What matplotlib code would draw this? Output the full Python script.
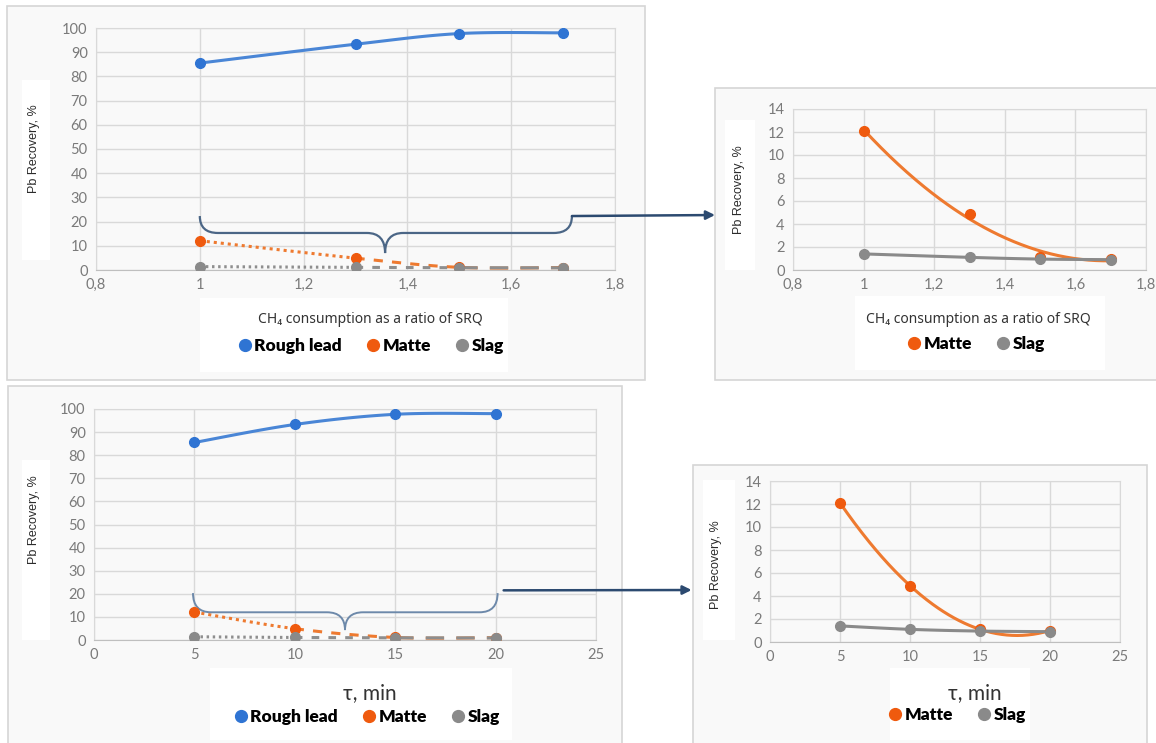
import matplotlib as mpl
mpl.use('agg')
import matplotlib.pyplot as plt
import numpy as np
from matplotlib.path import Path
from matplotlib.patches import PathPatch, Rectangle, ConnectionPatch
from matplotlib.lines import Line2D
from matplotlib.ticker import FuncFormatter, MultipleLocator

# data
ch4_ratio = [1.0, 1.3, 1.5, 1.7]
time_min = [5, 10, 15, 20]
rough_lead = [85.5, 93.3, 97.7, 98.0]
matte = [12.1, 4.9, 1.1, 1.0]
slag = [1.4, 1.1, 0.95, 0.9]

ratio_ticks = [0.8, 1.0, 1.2, 1.4, 1.6, 1.8]
time_ticks = [0, 5, 10, 15, 20, 25]

W, H = 1156, 743
BLUE, ORANGE, GREY = '#4a86d6', '#ee7a30', '#8e8e8e'
BLUE_M, ORANGE_M, GREY_M = '#2f74d3', '#ef5a0e', '#8a8a8a'
BRACE = '#4b6686'
ARROW = '#2c4a70'

plt.rcParams['font.family'] = ['Lato', 'DejaVu Sans']

fig = plt.figure(figsize=(W / 100, H / 100), dpi=100)
fig.patch.set_facecolor('white')


def px_box(x0, y0, x1, y1):
    return [x0 / W, 1 - y1 / H, (x1 - x0) / W, (y1 - y0) / H]


def frame(x0, y0, x1, y1, fc='#f9f9f9', ec='#d6d6d6'):
    fig.patches.append(Rectangle((x0 / W, 1 - y1 / H), (x1 - x0) / W, (y1 - y0) / H,
                                 transform=fig.transFigure, facecolor=fc,
                                 edgecolor=ec, lw=1.2, zorder=-10))


def white(x0, y0, x1, y1):
    frame(x0, y0, x1, y1, fc='white', ec='none')


def smooth(xs, ys, n=40):
    # excel-like smoothed line (catmull-rom bezier)
    xs, ys = np.asarray(xs, float), np.asarray(ys, float)
    px = np.concatenate([[xs[0]], xs, [xs[-1]]])
    py = np.concatenate([[ys[0]], ys, [ys[-1]]])
    segs = []
    t = np.linspace(0, 1, n)[:, None]
    for i in range(1, len(px) - 2):
        p0 = np.array([px[i], py[i]])
        p3 = np.array([px[i + 1], py[i + 1]])
        c1 = p0 + (np.array([px[i + 1], py[i + 1]]) - np.array([px[i - 1], py[i - 1]])) / 6
        c2 = p3 - (np.array([px[i + 2], py[i + 2]]) - np.array([px[i], py[i]])) / 6
        b = ((1 - t) ** 3) * p0 + 3 * ((1 - t) ** 2) * t * c1 + 3 * (1 - t) * t ** 2 * c2 + t ** 3 * p3
        segs.append(b)
    return segs


def style_axes(ax, xlim, ylim, xticks, ystep, fmt):
    ax.set_xlim(*xlim)
    ax.set_ylim(*ylim)
    ax.set_xticks(xticks)
    ax.yaxis.set_major_locator(MultipleLocator(ystep))
    ax.xaxis.set_major_formatter(FuncFormatter(fmt))
    ax.grid(True, color='#d9d9d9', lw=1.0)
    ax.set_axisbelow(True)
    ax.set_facecolor('none')
    for s in ax.spines.values():
        s.set_color('#d9d9d9')
    ax.spines['bottom'].set_color('#bfbfbf')
    ax.tick_params(length=0, colors='#7a7a7a', labelsize=10.5, pad=6)


def ratio_fmt(v, pos):
    return ('%g' % round(v, 2)).replace('.', ',')


def int_fmt(v, pos):
    return '%d' % v


def brace(ax, x0, x1, xc, ytop, ymid, ytip, dx, color, lw=1.6):
    verts = [(x0, ytop), (x0, ymid), (x0 + dx, ymid),
             (xc - dx, ymid), (xc, ymid), (xc, ytip),
             (xc, ymid), (xc + dx, ymid),
             (x1 - dx, ymid), (x1, ymid), (x1, ytop)]
    codes = [Path.MOVETO, Path.CURVE3, Path.CURVE3,
             Path.LINETO, Path.CURVE3, Path.CURVE3,
             Path.CURVE3, Path.CURVE3,
             Path.LINETO, Path.CURVE3, Path.CURVE3]
    ax.add_patch(PathPatch(Path(verts, codes), fc='none', ec=color, lw=lw,
                           clip_on=False, zorder=4))


def dashed_series(ax, xs, ys, color, mcolor, dash_list):
    for seg, d in zip(smooth(xs, ys), dash_list):
        ax.plot(seg[:, 0], seg[:, 1], color=color, lw=2.2, dashes=d,
                dash_capstyle='butt', zorder=3)
    ax.plot(xs, ys, 'o', color=mcolor, ms=7, zorder=5)


def solid_series(ax, xs, ys, color, mcolor):
    segs = np.vstack(smooth(xs, ys))
    ax.plot(segs[:, 0], segs[:, 1], color=color, lw=2.2, zorder=3)
    ax.plot(xs, ys, 'o', color=mcolor, ms=7, zorder=5)


def trend_series(ax, xs, ys, order, color, mcolor):
    coef = np.polyfit(xs, ys, order)
    xx = np.linspace(xs[0], xs[-1], 200)
    ax.plot(xx, np.polyval(coef, xx), color=color, lw=2.2, zorder=3)
    ax.plot(xs, ys, 'o', color=mcolor, ms=7, zorder=5)


def legend(x, y, names, colors):
    handles = [Line2D([], [], marker='o', ls='none', color=c, ms=8.5) for c in colors]
    fig.legend(handles, names, loc='center', bbox_to_anchor=(x / W, 1 - y / H),
               ncol=len(names), frameon=False, handletextpad=0.05,
               columnspacing=1.3, handlelength=1.0,
               prop={'weight': 'heavy', 'size': 12.5})


def ylabel(ax, xy):
    ax.set_ylabel('Pb Recovery, %', family=['Liberation Sans', 'DejaVu Sans'],
                  fontsize=9, color='#2b2b2b')
    ax.yaxis.set_label_coords(*xy)


def ch4_label(ax, xy):
    ax.set_xlabel('CH₄ consumption as a ratio of SRQ', family=['Noto Sans', 'DejaVu Sans'],
                  fontsize=10, color='#333333')
    ax.xaxis.set_label_coords(*xy)


# panel frames and white patches
frame(7, 6, 645, 380)
frame(715, 88, 1170, 380)
frame(8, 386, 622, 760)
frame(693, 465, 1147, 760)
white(200, 298, 508, 372)
white(22, 80, 50, 260)
white(210, 668, 512, 740)
white(22, 460, 50, 640)
white(855, 296, 1105, 370)
white(725, 120, 755, 270)
white(890, 668, 1030, 740)
white(703, 480, 735, 640)

# top-left: CH4 ratio, all phases
ax1 = fig.add_axes(px_box(96, 28, 615, 270))
style_axes(ax1, (0.8, 1.8), (0, 100), ratio_ticks, 10, ratio_fmt)
solid_series(ax1, ch4_ratio, rough_lead, BLUE, BLUE_M)
dashed_series(ax1, ch4_ratio, matte, ORANGE, ORANGE_M, [(1, 1.3), (3, 3), (6, 4)])
dashed_series(ax1, ch4_ratio, slag, GREY, GREY_M, [(0.8, 1.2), (2.5, 3), (6, 4)])
brace(ax1, 1.0, 1.717, 1.357, 22.3, 15.3, 7.0, 0.035, BRACE)
ylabel(ax1, (-0.108, 0.5))
ch4_label(ax1, (0.528, -0.175))
legend(370, 346, ['Rough lead', 'Matte', 'Slag'], [BLUE_M, ORANGE_M, GREY_M])

# top-right: CH4 ratio, matte and slag
ax2 = fig.add_axes(px_box(793, 109, 1146, 270))
style_axes(ax2, (0.8, 1.8), (0, 14), ratio_ticks, 2, ratio_fmt)
trend_series(ax2, ch4_ratio, matte, 2, ORANGE, ORANGE_M)
solid_series(ax2, ch4_ratio, slag, '#8a8a8a', GREY_M)
ylabel(ax2, (-0.136, 0.5))
ch4_label(ax2, (0.524, -0.26))
legend(975, 344, ['Matte', 'Slag'], [ORANGE_M, GREY_M])

# bottom-left: time, all phases
ax3 = fig.add_axes(px_box(94, 409, 596, 640))
style_axes(ax3, (0, 25), (0, 100), time_ticks, 10, int_fmt)
solid_series(ax3, time_min, rough_lead, BLUE, BLUE_M)
dashed_series(ax3, time_min, matte, ORANGE, ORANGE_M, [(1, 1.3), (3, 3), (6, 4)])
dashed_series(ax3, time_min, slag, GREY, GREY_M, [(0.8, 1.2), (2.5, 3), (6, 4)])
brace(ax3, 4.93, 20.1, 12.5, 20.3, 12.0, 4.3, 0.9, '#6d89aa', lw=1.4)
ylabel(ax3, (-0.108, 0.52))
ax3.set_xlabel('τ, min', fontsize=15, color='#333333')
ax3.xaxis.set_label_coords(0.55, -0.185)
legend(366, 717, ['Rough lead', 'Matte', 'Slag'], [BLUE_M, ORANGE_M, GREY_M])

# bottom-right: time, matte and slag
ax4 = fig.add_axes(px_box(770, 481, 1120, 642))
style_axes(ax4, (0, 25), (0, 14), time_ticks, 2, int_fmt)
trend_series(ax4, time_min, matte, 3, ORANGE, ORANGE_M)
solid_series(ax4, time_min, slag, '#8a8a8a', GREY_M)
ylabel(ax4, (-0.137, 0.48))
ax4.set_xlabel('τ, min', fontsize=15, color='#333333')
ax4.xaxis.set_label_coords(0.586, -0.255)
legend(956, 715, ['Matte', 'Slag'], [ORANGE_M, GREY_M])

# arrows from the braces to the zoomed charts
for a, b, pa, pb in [(ax1, ax2, (1.717, 22.3), (0.579, 4.78)),
                     (ax3, ax4, (20.4, 21.5), (-5.6, 4.52))]:
    con = ConnectionPatch(xyA=pa, coordsA=a.transData, xyB=pb, coordsB=b.transData,
                          arrowstyle='-|>', mutation_scale=13, color=ARROW, lw=1.8,
                          zorder=6)
    fig.add_artist(con)

fig.savefig('out.png', dpi=100)
plt.close(fig)
